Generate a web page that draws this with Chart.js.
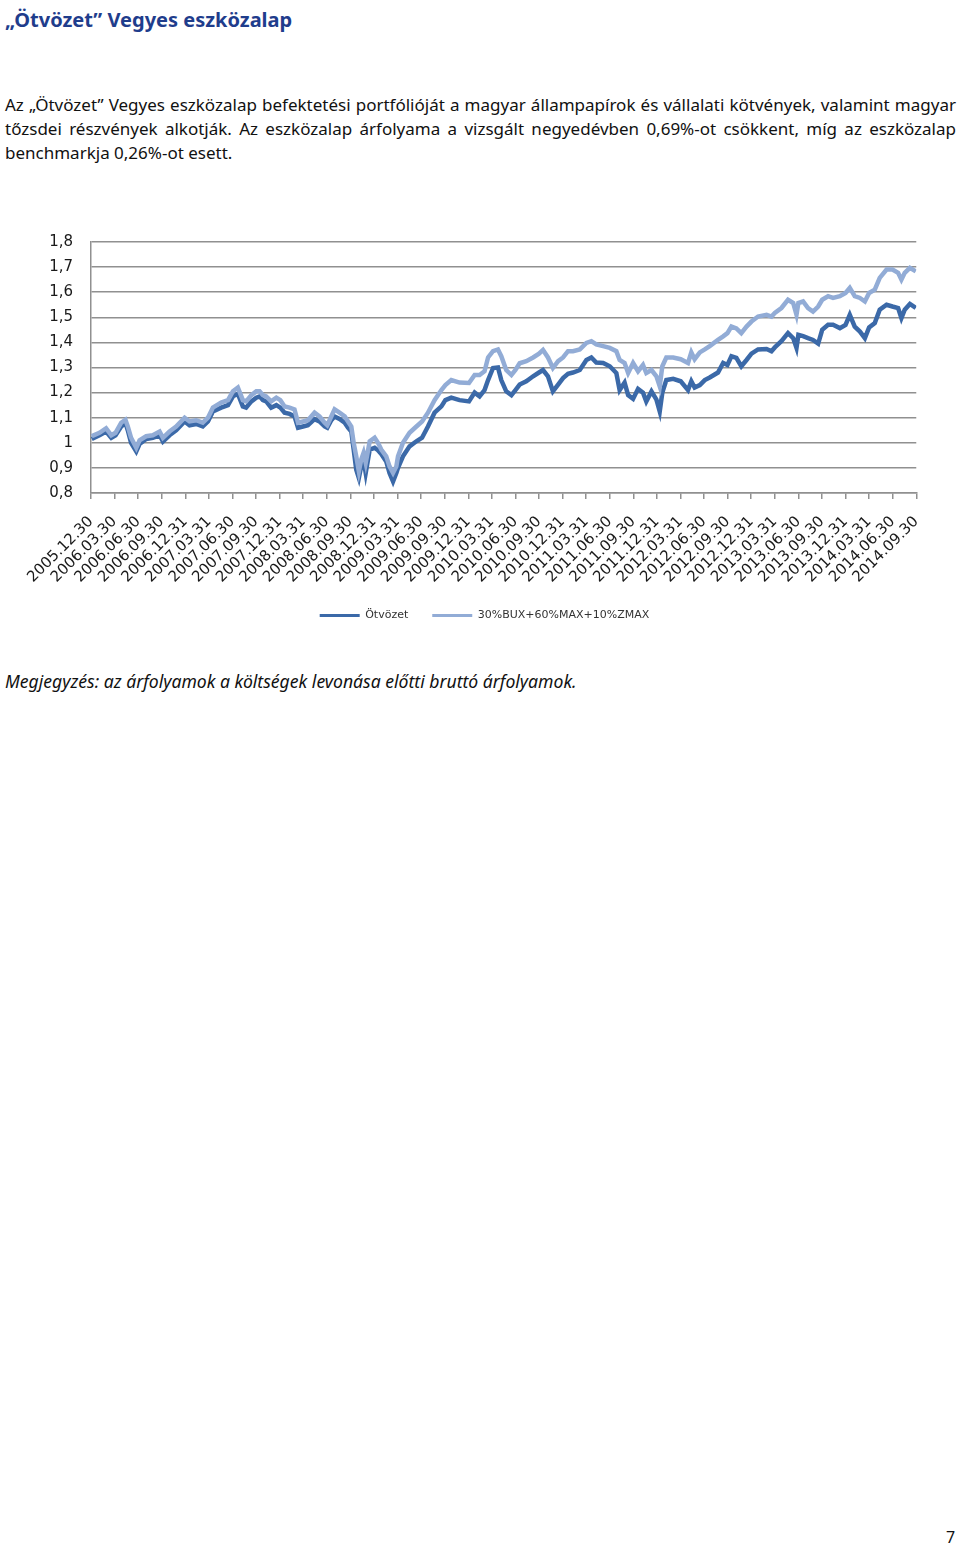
<!DOCTYPE html>
<html>
<head>
<meta charset="utf-8">
<script src="https://cdn.jsdelivr.net/npm/chart.js@4"></script>
<style>
  body { margin: 0; width: 960px; height: 1545px; position: relative; background: #fff; font-family: "Noto Sans", sans-serif; color: #111; }
  #title { position: absolute; left: 5px; top: 6px; font-size: 20px; font-weight: bold; color: #1f3d8c; }
  #intro { position: absolute; left: 5px; top: 93px; width: 951px; font-size: 17px; line-height: 24px; }
  #intro span { display: block; white-space: nowrap; text-align: justify; text-align-last: justify; }
  #intro span.last { text-align-last: left; }
  #chartbox { position: absolute; left: 0; top: 215px; width: 943px; height: 416px; }
  #note { position: absolute; left: 5px; top: 669px; font-size: 17.6px; font-style: italic; }
  #page { position: absolute; left: 946px; top: 1526px; font-size: 16px; }
</style>
</head>
<body>
<div id="title">„Ötvözet” Vegyes eszközalap</div>
<div id="intro">
  <span>Az „Ötvözet” Vegyes eszközalap befektetési portfólióját a magyar állampapírok és vállalati kötvények, valamint magyar</span>
  <span>tőzsdei részvények alkotják. Az eszközalap árfolyama a vizsgált negyedévben 0,69%-ot csökkent, míg az eszközalap</span>
  <span class="last">benchmarkja 0,26%-ot esett.</span>
</div>
<div id="chartbox"><canvas id="chart"></canvas></div>
<div id="note">Megjegyzés: az árfolyamok a költségek levonása előtti bruttó árfolyamok.</div>
<div id="page">7</div>

<script>
// Quarter-end dates on the x axis; positions below are in quarters since 2005.12.30
const quarterLabels = [
    "2005.12.30", "2006.03.30", "2006.06.30", "2006.09.30", "2006.12.31",
    "2007.03.31", "2007.06.30", "2007.09.30", "2007.12.31", "2008.03.31",
    "2008.06.30", "2008.09.30", "2008.12.31", "2009.03.31", "2009.06.30",
    "2009.09.30", "2009.12.31", "2010.03.31", "2010.06.30", "2010.09.30",
    "2010.12.31", "2011.03.31", "2011.06.30", "2011.09.30", "2011.12.31",
    "2012.03.31", "2012.06.30", "2012.09.30", "2012.12.31", "2013.03.31",
    "2013.06.30", "2013.09.30", "2013.12.31", "2014.03.31", "2014.06.30",
    "2014.09.30"]

const seriesNames = ["Ötvözet", "30%BUX+60%MAX+10%ZMAX"]

// sample positions (quarters)
const samplePos = [
    0.03, 0.36, 0.64, 0.86, 1.04, 1.28, 1.46, 1.56, 1.70, 1.92,
    2.06, 2.34, 2.62, 2.91, 3.05, 3.33, 3.61, 3.97, 4.18, 4.46,
    4.74, 4.96, 5.17, 5.52, 5.81, 6.02, 6.23, 6.44, 6.58, 6.80,
    7.01, 7.15, 7.29, 7.43, 7.64, 7.86, 8.03, 8.21, 8.42, 8.63,
    8.78, 8.99, 9.20, 9.48, 9.69, 9.91, 10.02, 10.19, 10.33, 10.54,
    10.76, 10.90, 11.04, 11.14, 11.25, 11.36, 11.46, 11.56, 11.65, 11.82,
    12.03, 12.17, 12.31, 12.52, 12.66, 12.81, 12.95, 13.02, 13.23, 13.51,
    13.80, 14.04, 14.29, 14.57, 14.86, 15.03, 15.28, 15.63, 16.03, 16.27,
    16.48, 16.69, 16.84, 17.05, 17.26, 17.40, 17.61, 17.83, 18.00, 18.18,
    18.46, 18.75, 19.00, 19.17, 19.38, 19.59, 19.81, 20.02, 20.23, 20.44,
    20.73, 21.01, 21.22, 21.43, 21.72, 22.00, 22.28, 22.42, 22.63, 22.78,
    22.99, 23.20, 23.41, 23.55, 23.77, 23.98, 24.12, 24.23, 24.40, 24.69,
    25.01, 25.32, 25.46, 25.60, 25.82, 26.03, 26.24, 26.59, 26.81, 26.99,
    27.16, 27.37, 27.58, 27.80, 28.01, 28.29, 28.65, 28.86, 29.00, 29.28,
    29.56, 29.78, 29.92, 30.00, 30.20, 30.41, 30.62, 30.84, 31.01, 31.26,
    31.47, 31.76, 32.00, 32.18, 32.39, 32.61, 32.82, 33.00, 33.24, 33.45,
    33.74, 33.99, 34.23, 34.37, 34.51, 34.73, 34.98]

// Ötvözet
const otvValues = [
    1.015, 1.03, 1.045, 1.02, 1.03, 1.065, 1.08, 1.05, 1.0, 0.966,
    0.995, 1.015, 1.02, 1.03, 1.005, 1.03, 1.05, 1.085, 1.07, 1.075,
    1.065, 1.085, 1.125, 1.14, 1.15, 1.185, 1.195, 1.145, 1.14, 1.165,
    1.18, 1.185, 1.17, 1.165, 1.14, 1.15, 1.14, 1.12, 1.115, 1.105,
    1.06, 1.065, 1.07, 1.094, 1.085, 1.065, 1.06, 1.09, 1.105, 1.095,
    1.08, 1.06, 1.045, 0.973, 0.893, 0.86, 0.906, 0.933, 0.88, 0.973,
    0.98, 0.97, 0.955, 0.926, 0.88, 0.846, 0.88, 0.9, 0.946, 0.986,
    1.006, 1.02, 1.065, 1.12, 1.145, 1.17, 1.18, 1.17, 1.165, 1.2,
    1.185, 1.21, 1.25, 1.298, 1.30, 1.25, 1.205, 1.19, 1.21, 1.232,
    1.245, 1.265, 1.28, 1.29, 1.265, 1.205, 1.232, 1.258, 1.275, 1.28,
    1.29, 1.33, 1.34, 1.32, 1.318, 1.305, 1.278, 1.21, 1.24, 1.19,
    1.175, 1.215, 1.2, 1.165, 1.205, 1.172, 1.125, 1.2, 1.25, 1.255,
    1.245, 1.21, 1.245, 1.22, 1.23, 1.25, 1.26, 1.28, 1.318, 1.31,
    1.345, 1.338, 1.305, 1.33, 1.355, 1.372, 1.374, 1.365, 1.38, 1.405,
    1.437, 1.417, 1.378, 1.43, 1.425, 1.417, 1.41, 1.395, 1.45, 1.47,
    1.47, 1.457, 1.47, 1.51, 1.463, 1.443, 1.417, 1.46, 1.477, 1.53,
    1.55, 1.543, 1.537, 1.497, 1.53, 1.553, 1.537]

// 30%BUX+60%MAX+10%ZMAX
const benchValues = [
    1.026, 1.04, 1.058, 1.03, 1.04, 1.08, 1.092, 1.065, 1.02, 0.98,
    1.01, 1.026, 1.03, 1.045, 1.02, 1.045, 1.065, 1.10, 1.085, 1.09,
    1.08, 1.10, 1.14, 1.16, 1.17, 1.205, 1.22, 1.17, 1.165, 1.19,
    1.205, 1.205, 1.19, 1.185, 1.165, 1.18, 1.17, 1.145, 1.14, 1.133,
    1.08, 1.085, 1.09, 1.12, 1.105, 1.08, 1.07, 1.105, 1.133, 1.12,
    1.105, 1.085, 1.065, 1.0, 0.946, 0.886, 0.933, 0.96, 0.92, 1.006,
    1.02, 1.0, 0.973, 0.946, 0.906, 0.88, 0.906, 0.946, 1.0, 1.04,
    1.065, 1.085, 1.12, 1.17, 1.21, 1.23, 1.25, 1.24, 1.238, 1.27,
    1.27, 1.285, 1.34, 1.365, 1.372, 1.345, 1.29, 1.27, 1.29, 1.317,
    1.325, 1.34, 1.355, 1.37, 1.34, 1.298, 1.325, 1.34, 1.365, 1.365,
    1.372, 1.398, 1.405, 1.392, 1.385, 1.378, 1.365, 1.33, 1.318, 1.278,
    1.318, 1.285, 1.31, 1.278, 1.29, 1.265, 1.225, 1.305, 1.34, 1.34,
    1.333, 1.318, 1.36, 1.333, 1.36, 1.372, 1.385, 1.41, 1.424, 1.437,
    1.463, 1.456, 1.437, 1.463, 1.483, 1.503, 1.51, 1.503, 1.517, 1.537,
    1.57, 1.557, 1.51, 1.557, 1.563, 1.537, 1.523, 1.543, 1.57, 1.584,
    1.577, 1.584, 1.597, 1.617, 1.584, 1.577, 1.563, 1.597, 1.61, 1.657,
    1.69, 1.69, 1.677, 1.65, 1.677, 1.697, 1.683]

const yMin = 0.8
const yMax = 1.8

function points(vals) {
    return vals.map((v, i) => ({x: samplePos[i], y: v}))
}

// Excel style numbers: "1,8", "1"
function fmt(v) {
    return String(Math.round(v * 10) / 10).replace(".", ",")
}

const gridColor = "#909090"

new Chart(document.getElementById("chart"), {
    type: "line",
    data: {
        datasets: [
            { label: seriesNames[0], data: points(otvValues), borderColor: "#3b69a8",
              backgroundColor: "#3b69a8", borderWidth: 4.5, pointRadius: 0, order: 1 },
            { label: seriesNames[1], data: points(benchValues), borderColor: "#92acd6",
              backgroundColor: "#92acd6", borderWidth: 4.5, pointRadius: 0, order: 0 }
        ]
    },
    options: {
        responsive: true,
        maintainAspectRatio: false,
        animation: false,
        // left padding keeps the legend centred where the original has it;
        // the y axis is then narrowed so the plot still starts at x=91
        layout: { padding: { top: 16, right: 14, left: 40, bottom: 0 } },
        scales: {
            x: {
                type: "linear",
                min: 0,
                max: quarterLabels.length - 1,
                afterFit: (s) => { s.height = 93 },
                afterBuildTicks: (s) => {
                    s.ticks = quarterLabels.map((_, i) => ({value: i}))
                },
                border: { display: true, color: gridColor, width: 1.5 },
                grid: { drawOnChartArea: false, drawTicks: true, tickLength: 6, color: gridColor, lineWidth: 1.5 },
                ticks: {
                    autoSkip: false,
                    maxRotation: 45,
                    minRotation: 45,
                    padding: 14,
                    color: "#1a1a1a",
                    font: { family: "DejaVu Sans", size: 15 },
                    callback: (v) => quarterLabels[Math.round(v)]
                }
            },
            y: {
                min: yMin,
                max: yMax,
                afterFit: (s) => { s.width = 51 },
                border: { display: true, color: gridColor, width: 1.5 },
                grid: { color: gridColor, lineWidth: 1.5, drawTicks: false },
                ticks: {
                    stepSize: 0.1,
                    padding: 18,
                    color: "#1a1a1a",
                    font: { family: "DejaVu Sans", size: 15 },
                    callback: (v) => fmt(v)
                }
            }
        },
        plugins: {
            tooltip: { enabled: false },
            legend: {
                position: "bottom",
                labels: {
                    usePointStyle: true,
                    pointStyle: "line",
                    pointStyleWidth: 40,
                    padding: 24,
                    color: "#333",
                    font: { family: "DejaVu Sans", size: 11 },
                    sort: (a, b) => a.datasetIndex - b.datasetIndex,
                    generateLabels: (chart) =>
                        Chart.defaults.plugins.legend.labels.generateLabels(chart).map(l => ({...l, lineWidth: 3}))
                }
            }
        }
    }
})
</script>
</body>
</html>
